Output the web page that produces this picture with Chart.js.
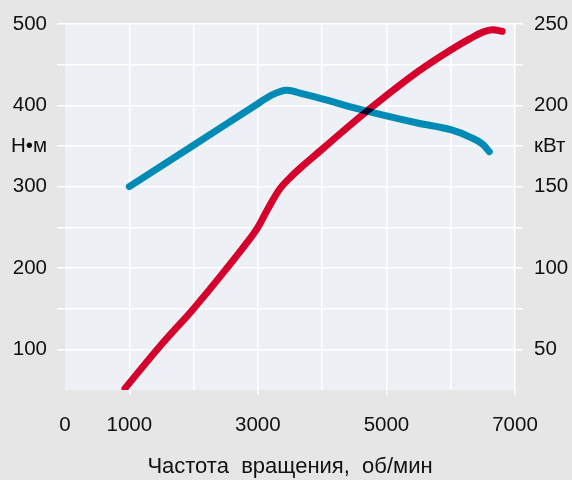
<!DOCTYPE html>
<html lang="ru">
<head>
  <meta charset="UTF-8">
  <title>Крутящий момент и мощность</title>
  <script src="https://cdn.jsdelivr.net/npm/chart.js"></script>
  <style>
    body {
      margin: 0;
      background: #e6e6e6;
    }
    canvas {
      display: block;
    }
  </style>
</head>
<body>
<canvas id="grafik" width="572" height="480"></canvas>
<script>
// крутящий момент, Н•м (левая шкала)
const oborotyMoment = [1000, 2000, 3000, 3200, 3450, 3700, 4000, 4500, 5000, 5500, 6000, 6300, 6500, 6600];
const moment = [300, 351, 402, 412, 418.5, 414, 408, 397, 387, 378, 370, 361, 352, 343];
// мощность, кВт (правая шкала)
const oborotyMoshch = [933, 1500, 2000, 2500, 2800, 3000, 3150, 3330, 3500, 4000, 4500, 5000, 5500, 6000, 6300, 6500, 6650, 6800];
const moshch = [26, 53, 75, 99, 114, 125, 136, 148, 155.5, 173, 190, 206, 221, 234, 241, 245, 246.5, 245.5];
// подписи осей
const xPodpisi = [0, 1000, 3000, 5000, 7000];
const nmPodpisi = [100, 200, 300, 400, 500];
const kvtPodpisi = [50, 100, 150, 200, 250];

const shrift = { family: '"Liberation Sans", Arial, sans-serif', size: 20.5 };
const shriftNazv = { family: '"Liberation Sans", Arial, sans-serif', size: 22 };

const fonPlugin = {
  id: 'fon',
  beforeDraw(chart) {
    const { ctx, chartArea: a } = chart;
    ctx.save();
    ctx.fillStyle = '#e6e6e6';
    ctx.fillRect(0, 0, chart.width, chart.height);
    ctx.fillStyle = '#edf0f5';
    ctx.fillRect(a.left, a.top, a.right - a.left, a.bottom - a.top);
    ctx.restore();
  },
  beforeDatasetsDraw(chart) {
    chart.ctx.save();
    chart.ctx.globalCompositeOperation = 'darken';
  },
  afterDatasetsDraw(chart) {
    chart.ctx.restore();
  }
};

new Chart(document.getElementById('grafik'), {
  type: 'line',
  data: {
    datasets: [
      {
        label: 'Н•м',
        data: oborotyMoment.map((x, i) => ({ x, y: moment[i] })),
        yAxisID: 'y',
        borderColor: '#008bb6',
        borderWidth: 7,
        borderCapStyle: 'round',
        borderJoinStyle: 'round',
        cubicInterpolationMode: 'monotone',
        pointRadius: 0
      },
      {
        label: 'кВт',
        data: oborotyMoshch.map((x, i) => ({ x, y: moshch[i] })),
        yAxisID: 'y2',
        borderColor: '#d5002b',
        borderWidth: 7,
        borderCapStyle: 'round',
        borderJoinStyle: 'round',
        cubicInterpolationMode: 'monotone',
        pointRadius: 0
      }
    ]
  },
  options: {
    responsive: false,
    animation: false,
    layout: { padding: { top: 24, left: 0, right: 0, bottom: 0 } },
    plugins: {
      legend: { display: false },
      tooltip: { enabled: false }
    },
    scales: {
      x: {
        type: 'linear',
        min: 0,
        max: 7000,
        border: { display: false },
        grid: {
          color: c => c.tick && c.tick.value === 0 ? 'transparent' : '#ffffff',
          tickColor: c => c.tick && xPodpisi.includes(c.tick.value) && c.tick.value !== 0 ? '#ffffff' : 'transparent',
          lineWidth: 1.5,
          tickLength: 5
        },
        ticks: {
          stepSize: 1000,
          padding: 18,
          color: '#111',
          font: shrift,
          maxRotation: 0,
          autoSkip: false,
          callback: v => xPodpisi.includes(v) ? String(v) : ''
        },
        title: {
          display: true,
          text: 'Частота  вращения,  об/мин',
          color: '#111',
          font: shriftNazv,
          padding: { top: 0, bottom: 0 }
        },
        afterFit: s => { s.height = 90; }
      },
      y: {
        position: 'left',
        min: 50,
        max: 500,
        border: { display: false },
        grid: {
          color: c => c.tick && c.tick.value === 50 ? 'transparent' : '#ffffff',
          lineWidth: 1.5,
          tickLength: 8
        },
        ticks: {
          stepSize: 50,
          padding: 10,
          color: '#111',
          font: shrift,
          autoSkip: false,
          callback: v => v === 350 ? 'Н•м' : (nmPodpisi.includes(v) ? String(v) : '')
        },
        afterFit: s => { s.width = 65; }
      },
      y2: {
        position: 'right',
        min: 25,
        max: 250,
        border: { display: false },
        grid: {
          drawOnChartArea: false,
          color: c => c.tick && c.tick.value === 25 ? 'transparent' : '#ffffff',
          lineWidth: 1.5,
          tickLength: 8
        },
        ticks: {
          stepSize: 25,
          padding: 11,
          color: '#111',
          font: shrift,
          autoSkip: false,
          callback: v => v === 175 ? 'кВт' : (kvtPodpisi.includes(v) ? String(v) : '')
        },
        afterFit: s => { s.width = 57; }
      }
    }
  },
  plugins: [fonPlugin]
});
</script>
</body>
</html>
